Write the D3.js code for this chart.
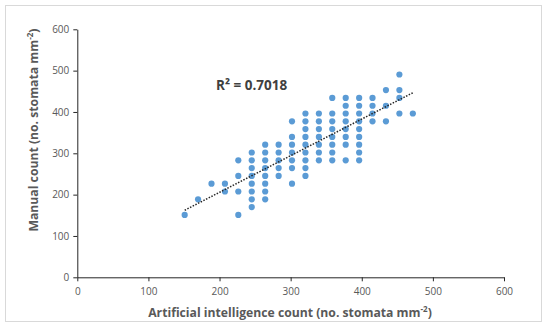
<!DOCTYPE html>
<html>
<head>
<meta charset="utf-8">
<script src="https://cdn.jsdelivr.net/npm/d3@7"></script>
<style>
  body { margin: 0; background: #fff; }
  text { font-family: "Open Sans", sans-serif; }
</style>
</head>
<body>
<div id="chart-area"></div>
<script>
// stomata counts, AI (x) vs manual (y)
const aiCount = [
  151.0, 169.8, 188.7, 207.6, 207.6,
  226.4, 226.4, 226.4, 226.4,
  245.3, 245.3, 245.3, 245.3, 245.3, 245.3, 245.3, 245.3,
  264.2, 264.2, 264.2, 264.2, 264.2, 264.2, 264.2, 264.2,
  283.1, 283.1, 283.1, 283.1, 283.1,
  301.9, 301.9, 301.9, 301.9, 301.9, 301.9, 301.9,
  320.8, 320.8, 320.8, 320.8, 320.8, 320.8, 320.8, 320.8, 320.8,
  339.7, 339.7, 339.7, 339.7, 339.7, 339.7, 339.7,
  358.5, 358.5, 358.5, 358.5, 358.5, 358.5, 358.5, 358.5,
  377.4, 377.4, 377.4, 377.4, 377.4, 377.4, 377.4, 377.4,
  396.3, 396.3, 396.3, 396.3, 396.3, 396.3, 396.3, 396.3, 396.3,
  415.1, 415.1, 415.1, 415.1,
  434.0, 434.0, 434.0,
  452.9, 452.9, 452.9, 452.9,
  471.8
]
const manualCount = [
  151.0, 188.7, 226.4, 207.6, 226.4,
  151.0, 207.6, 245.3, 283.1,
  169.8, 188.7, 207.6, 226.4, 245.3, 264.2, 283.1, 301.9,
  188.7, 207.6, 226.4, 245.3, 264.2, 283.1, 301.9, 320.8,
  245.3, 264.2, 283.1, 301.9, 320.8,
  226.4, 264.2, 283.1, 301.9, 320.8, 339.7, 377.4,
  245.3, 264.2, 283.1, 301.9, 320.8, 339.7, 358.5, 377.4, 396.3,
  283.1, 301.9, 320.8, 339.7, 358.5, 377.4, 396.3,
  283.1, 301.9, 320.8, 339.7, 358.5, 377.4, 396.3, 434.0,
  283.1, 320.8, 339.7, 358.5, 377.4, 396.3, 415.1, 434.0,
  283.1, 301.9, 320.8, 339.7, 358.5, 377.4, 396.3, 415.1, 434.0,
  377.4, 396.3, 415.1, 434.0,
  377.4, 415.1, 452.9,
  396.3, 434.0, 452.9, 490.6,
  396.3
]
const tickValues = [0, 100, 200, 300, 400, 500, 600]
const r2Label = "R² = 0.7018"

const MARGIN = { LEFT: 77.3, RIGHT: 46, TOP: 29.3, BOTTOM: 50.7 }
const WIDTH = 550 - MARGIN.LEFT - MARGIN.RIGHT
const HEIGHT = 328 - MARGIN.TOP - MARGIN.BOTTOM

const svg = d3.select("#chart-area").append("svg")
  .attr("width", 550)
  .attr("height", 328)

// chart border
svg.append("rect")
  .attr("x", 5.5)
  .attr("y", 5.5)
  .attr("width", 536)
  .attr("height", 316)
  .attr("fill", "#fff")
  .attr("stroke", "#d9d9d9")

const g = svg.append("g")
  .attr("transform", `translate(${MARGIN.LEFT}, ${MARGIN.TOP})`)

const x = d3.scaleLinear().domain([0, 600]).range([0, WIDTH])
const y = d3.scaleLinear().domain([0, 600]).range([HEIGHT, 0])

const xAxisCall = d3.axisBottom(x).tickValues(tickValues).tickSize(4).tickSizeOuter(0)
const xAxis = g.append("g")
  .attr("transform", `translate(0, ${HEIGHT})`)
  .call(xAxisCall)
xAxis.selectAll("text")
  .attr("font-size", "10px")
  .attr("fill", "#595959")
  .attr("y", 11)

const yAxisCall = d3.axisLeft(y).tickValues(tickValues).tickSize(4).tickSizeOuter(0)
const yAxis = g.append("g").call(yAxisCall)
yAxis.selectAll("text")
  .attr("font-size", "10px")
  .attr("fill", "#595959")
  .attr("x", -8)

g.selectAll(".domain").attr("stroke", "#262626")
g.selectAll(".tick line").attr("stroke", "#262626")
g.selectAll(".tick text").attr("font-family", "Open Sans")

// points
const data = aiCount.map((d, i) => ({ ai: d, manual: manualCount[i] }))
g.selectAll("circle")
  .data(data)
  .enter().append("circle")
    .attr("cx", d => x(d.ai))
    .attr("cy", d => y(d.manual))
    .attr("r", 3.1)
    .attr("fill", "#5b9bd5")

// linear trendline
const mx = d3.mean(data, d => d.ai)
const my = d3.mean(data, d => d.manual)
const slope = d3.sum(data, d => (d.ai - mx) * (d.manual - my)) / d3.sum(data, d => (d.ai - mx) ** 2)
const icpt = my - slope * mx
const [x0, x1] = d3.extent(aiCount)
g.append("line")
  .attr("x1", x(x0))
  .attr("y1", y(icpt + slope * x0))
  .attr("x2", x(x1))
  .attr("y2", y(icpt + slope * x1))
  .attr("stroke", "#262626")
  .attr("stroke-width", 1.5)
  .attr("stroke-dasharray", "1.5,1.5")

// R² label
svg.append("text")
  .attr("x", 216)
  .attr("y", 90)
  .attr("font-size", "13.5px")
  .attr("font-weight", "bold")
  .attr("fill", "#404040")
  .text(r2Label)

// X label
const xl = svg.append("text")
  .attr("x", 290)
  .attr("y", 317)
  .attr("font-size", "12.2px")
  .attr("font-weight", "bold")
  .attr("text-anchor", "middle")
  .attr("fill", "#595959")
xl.append("tspan").text("Artificial intelligence count (no. stomata mm")
xl.append("tspan").attr("font-size", "8px").attr("dy", -5).text("-2")
xl.append("tspan").attr("dy", 5).text(")")

// Y label
const yl = svg.append("text")
  .attr("transform", "translate(38, 130) rotate(-90)")
  .attr("font-size", "12.2px")
  .attr("font-weight", "bold")
  .attr("text-anchor", "middle")
  .attr("fill", "#595959")
yl.append("tspan").text("Manual count (no. stomata mm")
yl.append("tspan").attr("font-size", "8px").attr("dy", -5).text("-2")
yl.append("tspan").attr("dy", 5).text(")")
</script>
</body>
</html>
